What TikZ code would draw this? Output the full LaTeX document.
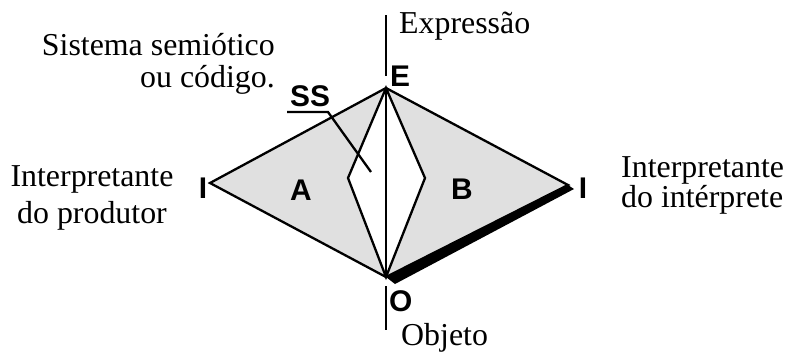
\documentclass[tikz,border=0pt]{standalone}
\usepackage{fontspec}
\setmainfont{Liberation Serif}
\newfontfamily\arialfont{Liberation Sans}
\usetikzlibrary{positioning}
\tikzset{
	edge/.style = {line width=2.3bp, line join=miter},
	face/.style = {fill=black!12},
	letter/.style = {font=\arialfont\bfseries\fontsize{30}{30}\selectfont, inner sep=0pt},
	caption/.style = {font=\fontsize{32}{#1}\selectfont, inner sep=0pt},
	caption/.default = 32,
}

\begin{document}
\begin{tikzpicture}[x=1bp, y=-1bp]
	\useasboundingbox (0,0) rectangle (790,353);
	% vertices
	\coordinate (E) at (386,88);
	\coordinate (O) at (386,277);
	\coordinate (il) at (210,183);
	\coordinate (ir) at (568,185);
	\coordinate (sl) at (348,178);
	\coordinate (sr) at (425,178);
	\coordinate (top) at (386,15);
	\coordinate (etop) at (386,76);
	\coordinate (obot) at (386,286);
	\coordinate (bot) at (386,330);
	\coordinate (ssa) at (287,112);
	\coordinate (ssb) at (328,112);
	\coordinate (ssc) at (371,172);
	% faces
	\fill[face] (il) -- (E) -- (sl) -- (O) -- cycle;
	\fill[face] (E) -- (ir) -- (O) -- (sr) -- cycle;
	\fill (O) -- (ir) -- ++(6,4) -- (395,284) -- cycle;
	\draw[edge] (il) -- (E) -- (ir) -- (O) -- cycle;
	\draw[edge] (E) -- (sl) -- (O) -- (sr) -- cycle;
	\draw[edge] (E) -- (O);
	\draw[edge] (top) -- (etop);
	\draw[edge] (obot) -- (bot);
	\draw[edge] (ssa) -- (ssb) -- (ssc);
	% letters
	\node (le) [letter, anchor=base west] at (390,86) {E};
	\node (lo) [letter, anchor=base west] at (389,311) {O};
	\node (lil) [letter, anchor=base] at (203,198) {I};
	\node (lir) [letter, anchor=base] at (583,198) {I};
	\node (la) [letter, anchor=base] at (301,200) {A};
	\node (lb) [letter, anchor=base] at (462,199) {B};
	\node (lss) [letter, anchor=base] at (310,106) {SS};
	% captions
	\node (expr) [caption, anchor=base west] at (399,33) {Expressão};
	\node (obj) [caption, anchor=base west] at (401,345) {Objeto};
	\node (sist) [caption=32, align=right, anchor=base east] at (275,87) {Sistema semiótico\\ou código.};
	\node (prod) [caption=37, align=center, anchor=base] at (92,223) {Interpretante\\do produtor};
	\node (intp) [caption=29, align=left, anchor=base west] at (621,207) {Interpretante\\do intérprete};
\end{tikzpicture}
\end{document}
